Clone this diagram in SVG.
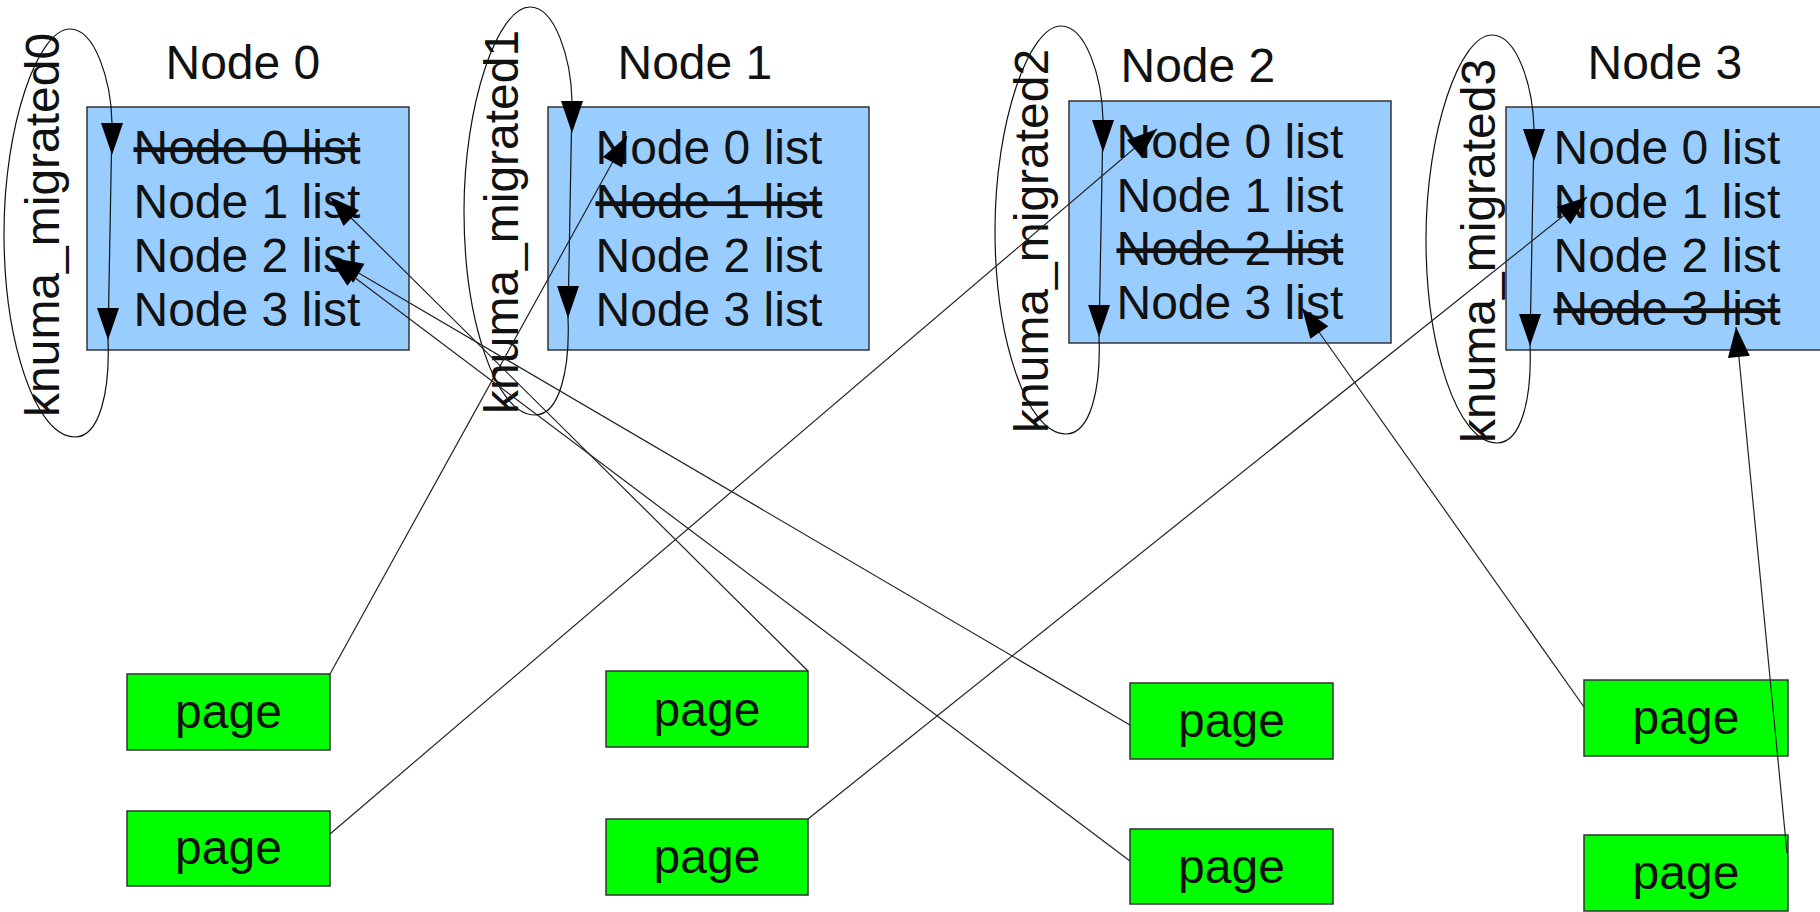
<svg xmlns="http://www.w3.org/2000/svg" xmlns:xlink="http://www.w3.org/1999/xlink" width="1820" height="912" viewBox="0 0 1820 912">
<style>
text{font-family:"Liberation Sans",Arial,sans-serif;font-size:48px;fill:#111}
.nodebox{fill:#99ccff;stroke:#333;stroke-width:1.5}
.pagebox{fill:#00ff00;stroke:#333;stroke-width:1.5}
.strike{text-decoration:line-through}
.loop{fill:none;stroke:#111;stroke-width:1.2}
.head{fill:#000}
.conn{fill:none;stroke:#222;stroke-width:1.2;marker-end:url(#arr)}
.pg{text-anchor:middle}
</style>
<defs>
<marker id="arr" markerUnits="userSpaceOnUse" markerWidth="32" markerHeight="24" refX="30" refY="11" orient="auto" overflow="visible">
<path d="M0,0 L30,11 L0,22 Z" fill="#000"/>
</marker>
<g id="loopShape">
<path class="loop" d="M66,0 C91,0 107,51 108,94 L104,311 C106,361 96,408 71,408 C31,408 0,311 0,204 C0,96 34,0 66,0 Z"/>
<polygon class="head" points="97,94 119,94 108,126"/>
<polygon class="head" points="93,279 115,279 104,311"/>
</g>
</defs>

<g id="node0">
<text x="165.5" y="79">Node 0</text>
<rect class="nodebox" x="87" y="107" width="322" height="243"/>
<text class="strike" x="133.5" y="164">Node 0 list</text>
<text x="133.5" y="218">Node 1 list</text>
<text x="133.5" y="272">Node 2 list</text>
<text x="133.5" y="326">Node 3 list</text>
</g>
<g id="node1">
<text x="617.5" y="79">Node 1</text>
<rect class="nodebox" x="548" y="107" width="321" height="243"/>
<text x="595.5" y="164">Node 0 list</text>
<text class="strike" x="595.5" y="218">Node 1 list</text>
<text x="595.5" y="272">Node 2 list</text>
<text x="595.5" y="326">Node 3 list</text>
</g>
<g id="node2">
<text x="1120.5" y="82">Node 2</text>
<rect class="nodebox" x="1069" y="101" width="322" height="242"/>
<text x="1116.5" y="158">Node 0 list</text>
<text x="1116.5" y="212">Node 1 list</text>
<text class="strike" x="1116.5" y="265">Node 2 list</text>
<text x="1116.5" y="319">Node 3 list</text>
</g>
<g id="node3">
<text x="1587.5" y="79">Node 3</text>
<rect class="nodebox" x="1506" y="107" width="322" height="243"/>
<text x="1553.5" y="164">Node 0 list</text>
<text x="1553.5" y="218">Node 1 list</text>
<text x="1553.5" y="272">Node 2 list</text>
<text class="strike" x="1553.5" y="325">Node 3 list</text>
</g>

<g id="migrated0">
<use xlink:href="#loopShape" href="#loopShape" transform="translate(4,29)"/>
<text transform="translate(59,417) rotate(-90)">knuma_migrated0</text>
</g>
<g id="migrated1">
<use xlink:href="#loopShape" href="#loopShape" transform="translate(464,7)"/>
<text transform="translate(518,414) rotate(-90)">knuma_migrated1</text>
</g>
<g id="migrated2">
<use xlink:href="#loopShape" href="#loopShape" transform="translate(995,26)"/>
<text transform="translate(1048,433) rotate(-90)">knuma_migrated2</text>
</g>
<g id="migrated3">
<use xlink:href="#loopShape" href="#loopShape" transform="translate(1426,35)"/>
<text transform="translate(1495,443) rotate(-90)">knuma_migrated3</text>
</g>

<g id="pageA1"><rect class="pagebox" x="127" y="674" width="203" height="76"/><text class="pg" x="228.5" y="728">page</text></g>
<g id="pageA2"><rect class="pagebox" x="127" y="811" width="203" height="75"/><text class="pg" x="228.5" y="864">page</text></g>
<g id="pageB1"><rect class="pagebox" x="606" y="671" width="202" height="76"/><text class="pg" x="707" y="726">page</text></g>
<g id="pageB2"><rect class="pagebox" x="606" y="819" width="202" height="76"/><text class="pg" x="707" y="873">page</text></g>
<g id="pageC1"><rect class="pagebox" x="1130" y="683" width="203" height="76"/><text class="pg" x="1231.5" y="737">page</text></g>
<g id="pageC2"><rect class="pagebox" x="1130" y="829" width="203" height="75"/><text class="pg" x="1231.5" y="883">page</text></g>
<g id="pageD1"><rect class="pagebox" x="1584" y="680" width="204" height="76"/><text class="pg" x="1686" y="734">page</text></g>
<g id="pageD2"><rect class="pagebox" x="1584" y="835" width="204" height="76"/><text class="pg" x="1686" y="889">page</text></g>

<g id="connectors">
<path class="conn" d="M330,674 L627,136"/>
<path class="conn" d="M330,834 L1157,129"/>
<path class="conn" d="M808,671 L330,197"/>
<path class="conn" d="M808,819 L1587,197"/>
<path class="conn" d="M1130,725 L333,258"/>
<path class="conn" d="M1130,861 L330,259"/>
<path class="conn" d="M1584,707 L1302,308"/>
<path class="conn" d="M1787,853 L1736,327"/>
</g>
</svg>
